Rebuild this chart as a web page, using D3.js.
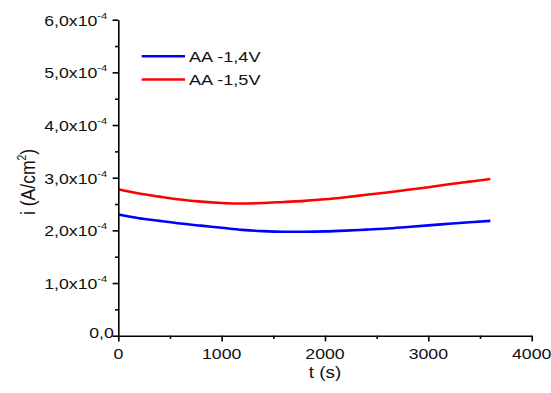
<!DOCTYPE html>
<html>
<head>
<meta charset="utf-8">
<script src="https://cdn.jsdelivr.net/npm/d3@7"></script>
<style>
  html, body { margin: 0; padding: 0; background: #fff; }
  svg { display: block; font-family: "Liberation Sans", Arial, sans-serif; }
</style>
</head>
<body>
<script>
// time axis (s) and current densities (x1e-4 A/cm2)
const times = [0, 200, 400, 600, 800, 1000, 1200, 1400, 1600, 1800, 2000, 2200, 2400, 2600, 2800, 3000, 3200, 3400, 3600];
const aa14 = [2.30, 2.23, 2.18, 2.13, 2.09, 2.05, 2.01, 1.985, 1.975, 1.975, 1.98, 1.995, 2.015, 2.035, 2.065, 2.095, 2.125, 2.155, 2.18];
const aa15 = [2.78, 2.70, 2.64, 2.585, 2.545, 2.52, 2.51, 2.52, 2.54, 2.56, 2.59, 2.63, 2.675, 2.72, 2.77, 2.82, 2.875, 2.925, 2.975];
const seriesNames = ['AA -1,4V', 'AA -1,5V'];
const seriesColors = ['#0000ff', '#ff0000'];
const xTicks = [0, 1000, 2000, 3000, 4000];
const xMinor = [500, 1500, 2500, 3500];
const yTicks = [0, 1, 2, 3, 4, 5, 6];
const yMinor = [0.5, 1.5, 2.5, 3.5, 4.5, 5.5];

const w = 551, h = 393;
const margin = { top: 19.7, right: 19.3, bottom: 57.3, left: 118.3 };
const sx = 1.18; // text in the picture is a bit wide

const svg = d3.select('body').append('svg')
  .attr('width', w)
  .attr('height', h);

const x = d3.scaleLinear().domain([0, 4000]).range([margin.left, w - margin.right]);
const y = d3.scaleLinear().domain([0, 6]).range([h - margin.bottom, margin.top]);

// lines
const data = [aa14, aa15].map((vals) => times.map((t, i) => ({ t, v: vals[i] })));
const line = d3.line()
  .x((d) => x(d.t))
  .y((d) => y(d.v))
  .curve(d3.curveMonotoneX);

svg.selectAll('.series')
  .data(data)
  .enter()
  .append('path')
  .attr('class', 'series')
  .attr('d', line)
  .attr('fill', 'none')
  .attr('stroke', (d, i) => seriesColors[i])
  .attr('stroke-width', 2.6);

// axes
svg.append('g')
  .attr('transform', `translate(0, ${y(0)})`)
  .call(d3.axisBottom(x).tickValues(xTicks).tickSize(5.7).tickSizeOuter(0).tickFormat(''));
svg.append('g')
  .attr('transform', `translate(0, ${y(0)})`)
  .call(d3.axisBottom(x).tickValues(xMinor).tickSize(3.2).tickFormat(''))
  .select('.domain').remove();

svg.append('g')
  .attr('transform', `translate(${x(0)}, 0)`)
  .call(d3.axisLeft(y).tickValues(yTicks).tickSize(5.7).tickSizeOuter(0).tickFormat(''));
svg.append('g')
  .attr('transform', `translate(${x(0)}, 0)`)
  .call(d3.axisLeft(y).tickValues(yMinor).tickSize(3.2).tickFormat(''))
  .select('.domain').remove();

svg.selectAll('.domain, .tick line')
  .attr('stroke', '#000')
  .attr('stroke-width', 1.6);

// x tick labels
svg.selectAll('.xLabel')
  .data(xTicks)
  .enter()
  .append('text')
  .attr('class', 'xLabel')
  .attr('transform', (d) => `translate(${x(d)}, 359) scale(${sx}, 1)`)
  .attr('text-anchor', 'middle')
  .attr('font-size', 15)
  .attr('fill', '#111')
  .text((d) => d);

// y tick labels
const yLab = svg.selectAll('.yLabel')
  .data(yTicks)
  .enter()
  .append('text')
  .attr('class', 'yLabel')
  .attr('transform', (d) => d === 0
    ? `translate(${x(0) - 4.5}, ${y(d) + 2.6}) scale(${sx}, 1)`
    : `translate(${x(0) - 11}, ${y(d) + 5.8}) scale(${sx}, 1)`)
  .attr('text-anchor', 'end')
  .attr('font-size', 15)
  .attr('fill', '#111');

yLab.each(function (d) {
  const t = d3.select(this);
  if (d === 0) {
    t.text('0,0');
  } else {
    t.append('tspan').text(`${d},0x10`);
    t.append('tspan').attr('font-size', 9.5).attr('dy', -7).text('-4');
  }
});

// axis titles
svg.append('text')
  .attr('transform', `translate(${(x(0) + x(4000)) / 2}, 378) scale(${sx}, 1)`)
  .attr('text-anchor', 'middle')
  .attr('font-size', 16)
  .attr('fill', '#111')
  .text('t (s)');

const yTitle = svg.append('text')
  .attr('transform', `translate(35, ${y(2.92)}) scale(${sx}, 1) rotate(-90)`)
  .attr('text-anchor', 'middle')
  .attr('font-size', 17.5)
  .attr('fill', '#111');
yTitle.append('tspan').text('i (A/cm');
yTitle.append('tspan').attr('font-size', 10.5).attr('dy', -8).text('2');
yTitle.append('tspan').attr('dy', 8).text(')');

// legend
const legend = svg.append('g').attr('class', 'legend');
const legendRows = seriesNames.map((name, i) => ({ name, color: seriesColors[i], cy: 56.3 + i * 23.2 }));

legend.selectAll('line')
  .data(legendRows)
  .enter()
  .append('line')
  .attr('x1', 141.7)
  .attr('x2', 185)
  .attr('y1', (d) => d.cy)
  .attr('y2', (d) => d.cy)
  .attr('stroke', (d) => d.color)
  .attr('stroke-width', 2.6);

legend.selectAll('text')
  .data(legendRows)
  .enter()
  .append('text')
  .attr('transform', (d) => `translate(189, ${d.cy + 5.4}) scale(1.21, 1)`)
  .attr('font-size', 15)
  .attr('fill', '#111')
  .text((d) => d.name);
</script>
</body>
</html>
